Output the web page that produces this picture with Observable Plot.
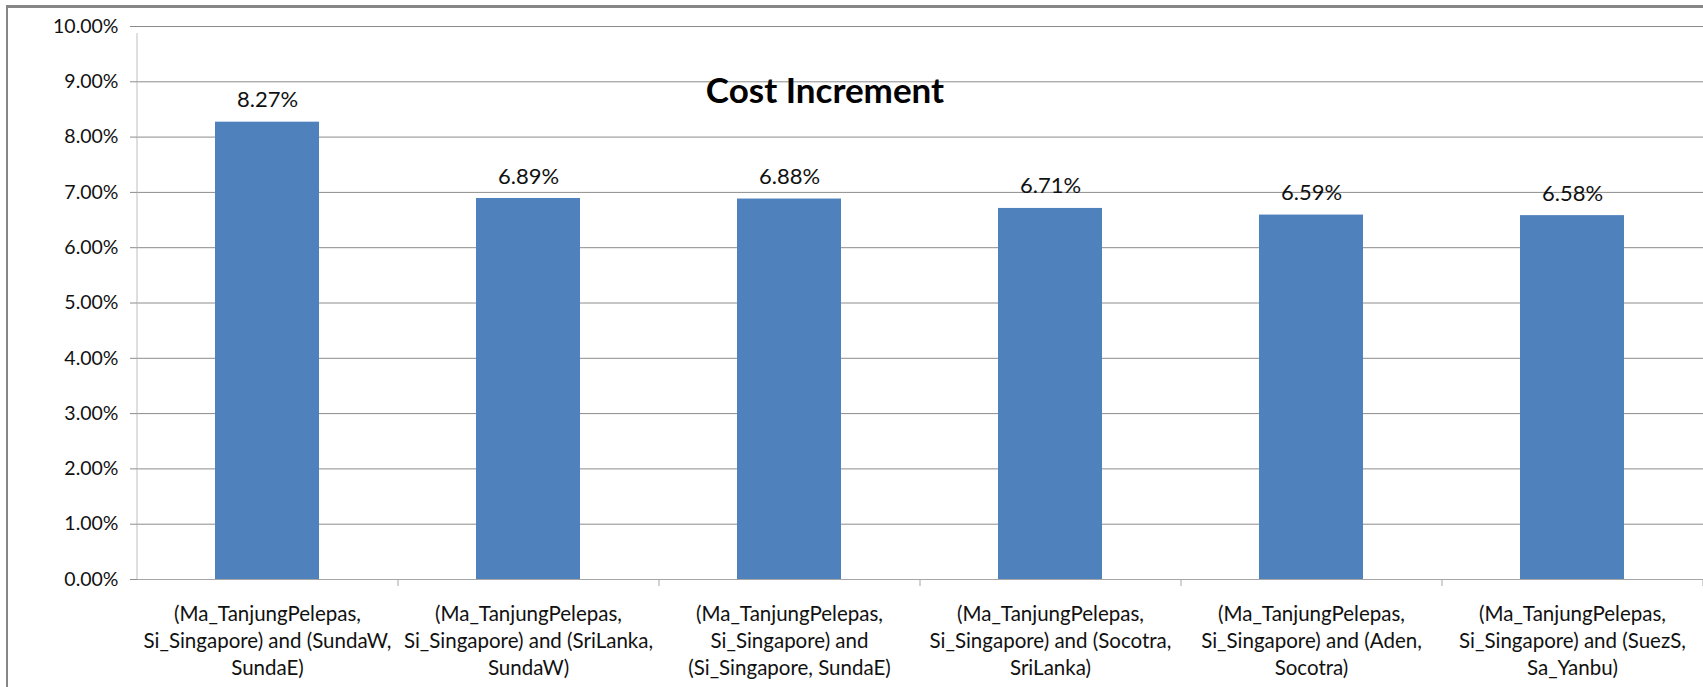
<!DOCTYPE html>
<html>
<head>
<meta charset="utf-8">
<script src="https://cdn.jsdelivr.net/npm/d3@7"></script>
<script src="https://cdn.jsdelivr.net/npm/@observablehq/plot@0.6"></script>
<style>
  html, body { margin: 0; padding: 0; background: #fff; }
  #wrap { position: relative; width: 1703px; height: 687px; overflow: hidden; background: #fff; }
  #frame { position: absolute; left: 6px; top: 5px; width: 1720px; height: 720px;
           border-left: 2px solid #868686; border-top: 3px solid #868686; pointer-events: none; }
  #title { position: absolute; left: 825px; top: 69px; transform: translateX(-50%);
           font-family: Lato, sans-serif; font-weight: bold; font-size: 35px; line-height: 40px; color: #000; white-space: nowrap; }
</style>
</head>
<body>
<div id="wrap">
  <div id="chart"></div>
  <div id="frame"></div>
  <div id="title">Cost Increment</div>
</div>
<script>
const categories = [
  "(Ma_TanjungPelepas,\nSi_Singapore) and (SundaW,\nSundaE)",
  "(Ma_TanjungPelepas,\nSi_Singapore) and (SriLanka,\nSundaW)",
  "(Ma_TanjungPelepas,\nSi_Singapore) and\n(Si_Singapore, SundaE)",
  "(Ma_TanjungPelepas,\nSi_Singapore) and (Socotra,\nSriLanka)",
  "(Ma_TanjungPelepas,\nSi_Singapore) and (Aden,\nSocotra)",
  "(Ma_TanjungPelepas,\nSi_Singapore) and (SuezS,\nSa_Yanbu)"
];
const costIncrement = [0.0827, 0.0689, 0.0688, 0.0671, 0.0659, 0.0658];
const yTicks = [0, 0.01, 0.02, 0.03, 0.04, 0.05, 0.06, 0.07, 0.08, 0.09, 0.10];

const data = categories.map((c, i) => ({category: c, value: costIncrement[i]}));

const W = 1703, H = 687, mL = 137, mR = 0, mT = 26, mB = 108;
const step = (W - mL - mR) / categories.length;
const pct = d3.format(".2%");

const chart = Plot.plot({
  width: W, height: H,
  marginLeft: mL, marginRight: mR, marginTop: mT, marginBottom: mB,
  style: {fontFamily: "Lato, sans-serif", background: "transparent", color: "#000"},
  x: {domain: categories, paddingInner: 0.6, paddingOuter: 0.3, label: null},
  y: {domain: [0, 0.10], label: null},
  marks: [
    Plot.ruleY(yTicks.filter(d => d > 0), {stroke: "#8c8c8c", strokeWidth: 1}),
    Plot.barY(data, {x: "category", y: "value", fill: "#4F81BD"}),
    Plot.ruleY([0], {stroke: "#a6a6a6", strokeWidth: 1}),
    Plot.ruleX([categories[0]], {dx: -step / 2, y1: 0, y2: 0.10, insetBottom: -7, stroke: "#bfbfbf"}),
    Plot.ruleX(categories, {dx: step / 2, y1: 0, y2: 0, insetBottom: -7, stroke: "#a6a6a6"}),
    Plot.axisY({ticks: yTicks, tickSize: 7, tickPadding: 12, tickFormat: pct, stroke: "#8c8c8c", fill: "#111", fontSize: 19.5}),
    Plot.axisX({tickSize: 0, tickPadding: 22, lineAnchor: "top", fontSize: 20.5, lineHeight: 27 / 20.5, fill: "#111", textOverflow: null}),
    Plot.text(data, {x: "category", y: "value", text: d => pct(d.value), dy: -22, fontSize: 22, fill: "#111"})
  ]
});
document.getElementById("chart").appendChild(chart);
</script>
</body>
</html>
